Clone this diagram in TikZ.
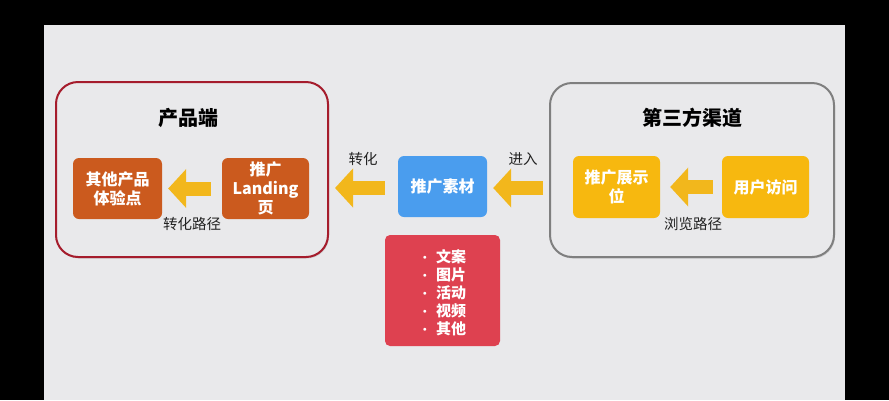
\documentclass[tikz,border=0pt]{standalone}
\usepackage{fontspec}
\setmainfont{Noto Sans CJK SC}
\usetikzlibrary{arrows.meta,shadows}
\definecolor{panelgray}{HTML}{E9E9EB}
\definecolor{prodred}{HTML}{A51C2C}
\definecolor{chgray}{HTML}{7F7F7F}
\definecolor{boxorange}{HTML}{CB5A1E}
\definecolor{boxblue}{HTML}{4A9DEE}
\definecolor{boxyellow}{HTML}{F7B80F}
\definecolor{arrowyellow}{HTML}{F2B71C}
\definecolor{listred}{HTML}{DE4150}
\definecolor{labeltext}{HTML}{222222}
\newcommand{\lbul}{\raisebox{3.5pt}{\normalfont\fontsize{7}{7}\selectfont$\bullet$}\hspace{9pt}}
\tikzset{
  groupbox/.style={draw=#1, line width=2pt, rounded corners=22pt, drop shadow={opacity=0.25, shadow xshift=1pt, shadow yshift=-1.5pt}},
  card/.style={fill=#1, rounded corners=6pt, text=white, font=\bfseries\fontsize{16}{19}\selectfont, align=center, inner sep=0pt},
  grouptitle/.style={font=\bfseries\fontsize{20}{24}\selectfont, text=black},
  pathlabel/.style={font=\fontsize{14.5}{17}\selectfont, text=labeltext},
  flow/.style={draw=arrowyellow, line width=14pt, -{Triangle[length=18pt,width=38pt]}},
}
\begin{document}
\begin{tikzpicture}[x=1pt,y=-1pt]
\useasboundingbox (0,0) rectangle (889,400);
\fill[black] (0,0) rectangle (889,400);
\fill[panelgray] (44,25) rectangle (845,400);
% group boxes
\draw[groupbox=prodred, fill=panelgray] (56,82) rectangle (328,257);
\draw[groupbox=chgray, fill=panelgray] (550,83) rectangle (834,257);
\coordinate (prodE) at (328,188);
\coordinate (chW) at (550,188);
\node[grouptitle] (t1) at (188,118) {产品端};
\node[grouptitle] (t2) at (692,118) {第三方渠道};
% cards
\node[card=boxorange, minimum width=89pt, minimum height=61pt] (b1) at (117.5,188.5) {其他产品\\体验点};
\node[card=boxorange, minimum width=87pt, minimum height=61pt] (b2) at (265.5,188.5) {推广\\Landing\\页};
\node[card=boxblue, minimum width=89pt, minimum height=61pt] (bl) at (442.5,186.5) {推广素材};
\node[card=boxyellow, minimum width=87pt, minimum height=62pt] (y1) at (616.5,187) {推广展示\\位};
\node[card=boxyellow, minimum width=87pt, minimum height=62pt] (y2) at (765.5,187) {用户访问};
% list box
\node[fill=listred, rounded corners=5pt, minimum width=115pt, minimum height=111pt] (lst) at (442.5,290.5) {};
\node[text=white, font=\bfseries\fontsize{15}{18}\selectfont, align=left, inner sep=0pt] (lsttxt) at (444.5,293)
 {\lbul 文案\\
  \lbul 图片\\
  \lbul 活动\\
  \lbul 视频\\
  \lbul 其他};
% arrows
\draw[flow, shorten <=11pt, shorten >=6pt] (b2.west |- b1.east) -- (b1.east);
\draw[flow, shorten <=13pt, shorten >=7pt] (bl.west |- prodE) -- (prodE);
\draw[flow, shorten <=7pt, shorten >=6pt] (chW) -- (bl.east |- chW);
\draw[flow, shorten <=9pt, shorten >=10pt] (y2.west |- y1.east) -- (y1.east);
% labels
\node[pathlabel] (l1) at (192,224) {转化路径};
\node[pathlabel] (l2) at (363,159) {转化};
\node[pathlabel] (l3) at (523,159) {进入};
\node[pathlabel] (l4) at (693,224) {浏览路径};
\end{tikzpicture}
\end{document}
